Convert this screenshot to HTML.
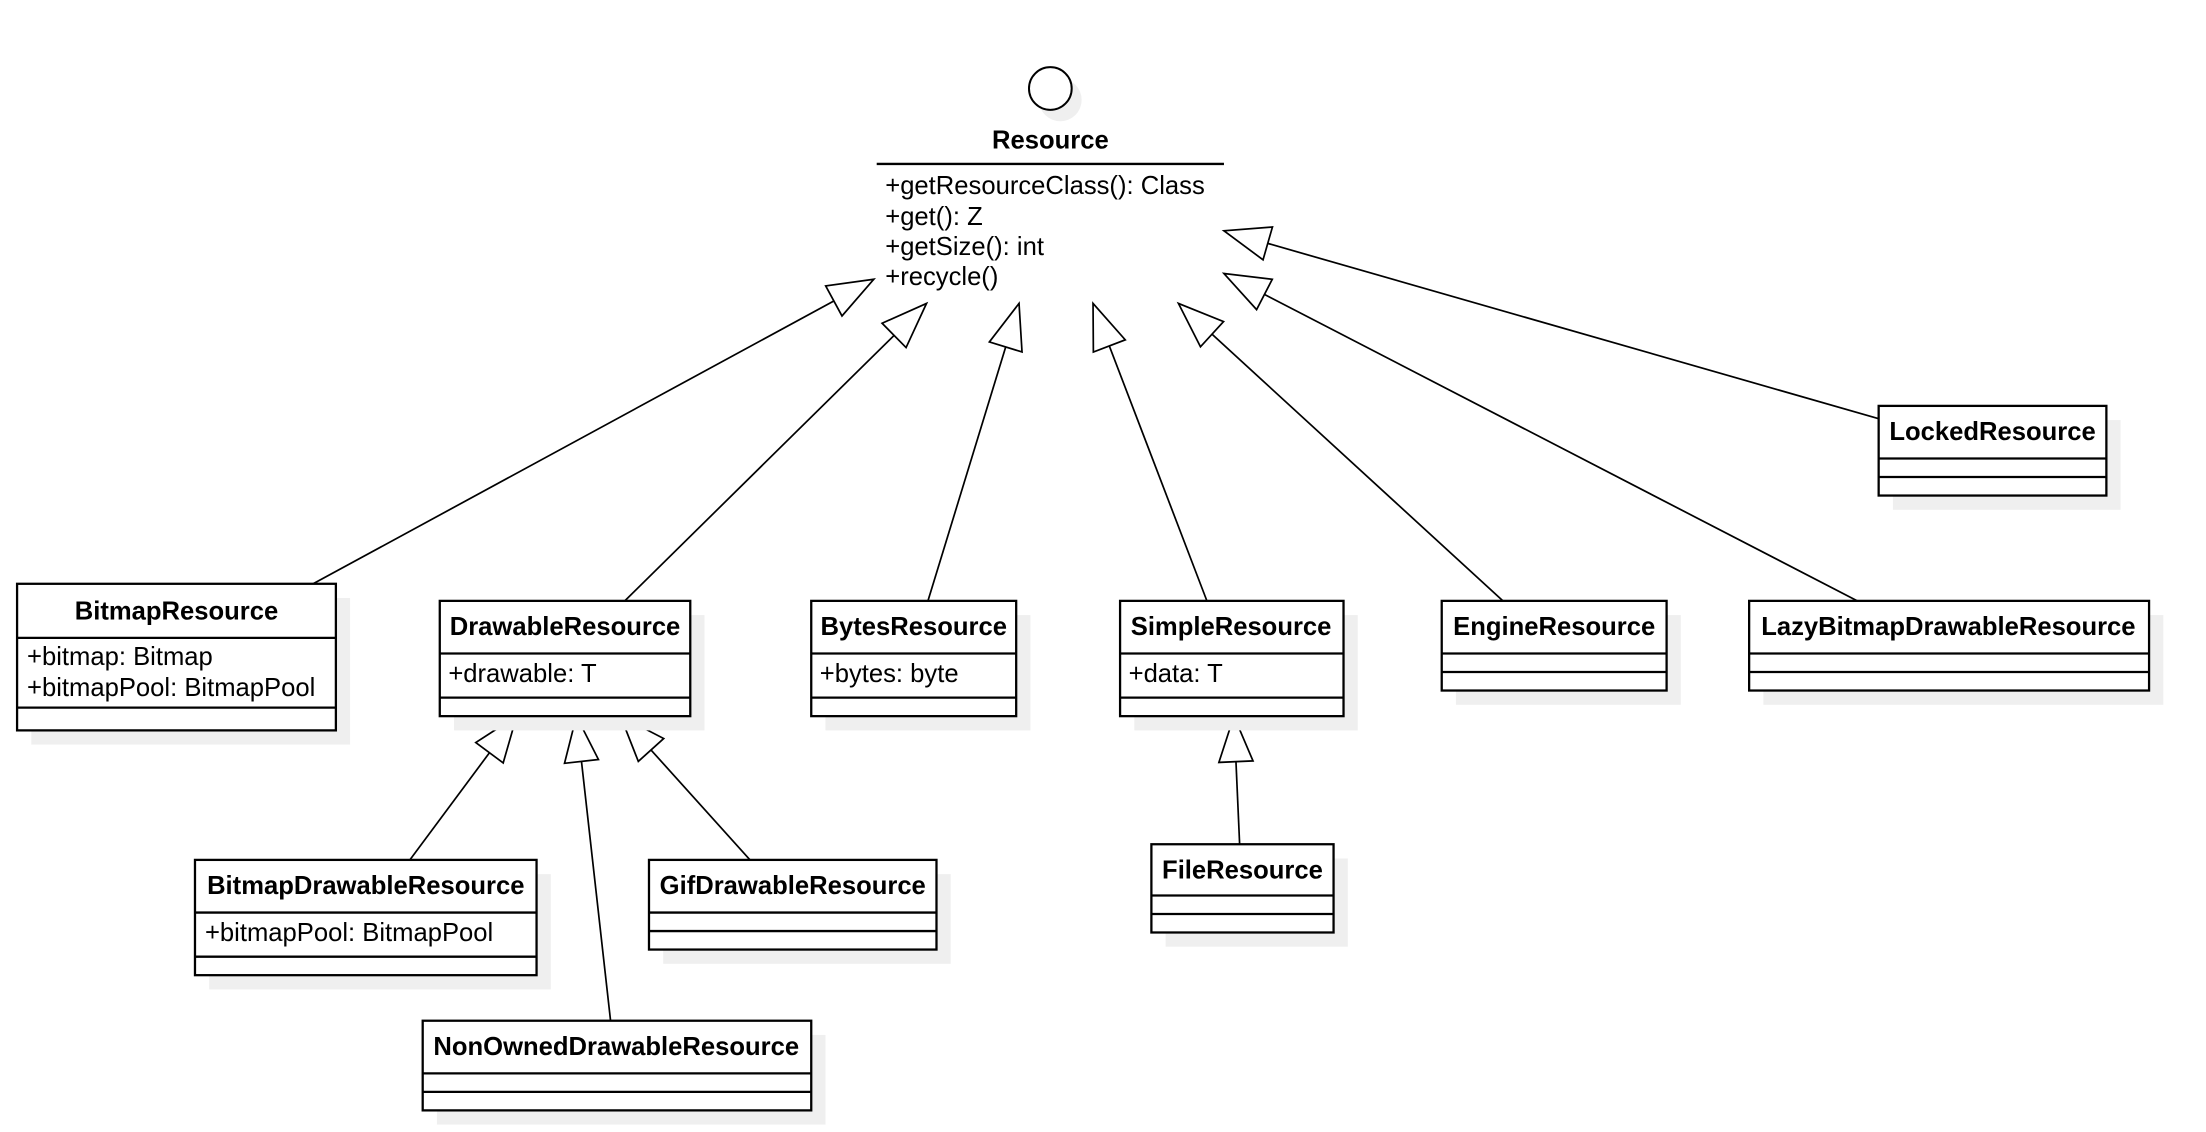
<!DOCTYPE html>
<html><head><meta charset="utf-8"><style>
html,body{margin:0;padding:0;background:#fff;}
svg{display:block;}
text{font-family:"Liberation Sans",Arial,sans-serif;font-size:18px;fill:#000;}
.b{font-weight:bold;}
.box{fill:#fff;stroke:#000;stroke-width:1.6;}
.sh{fill:#efefef;}
.ln{stroke:#000;stroke-width:1.2;fill:none;}
</style></head><body>
<svg width="2206" height="1132" viewBox="0 0 1550 795" xmlns="http://www.w3.org/2000/svg">
<defs>
<marker id="tri" markerUnits="userSpaceOnUse" viewBox="-34 -14 36 28" refX="0" refY="0" markerWidth="36" markerHeight="28" orient="auto">
<path d="M0,0 L-32,-12 L-32,12 Z" fill="#fff" stroke="#000" stroke-width="1.2"/>
</marker>
</defs>

<circle cx="745" cy="70" r="15" fill="#efefef"/>
<circle cx="738" cy="62" r="15" fill="#fff" stroke="#000" stroke-width="1.4"/>
<text x="738" y="104" text-anchor="middle" class="b">Resource</text>
<line x1="616" y1="115" x2="860" y2="115" stroke="#000" stroke-width="1.6"/>
<text x="622" y="136">+getResourceClass(): Class</text>
<text x="622" y="158">+get(): Z</text>
<text x="622" y="179">+getSize(): int</text>
<text x="622" y="200">+recycle()</text>

<g class="ln" marker-end="url(#tri)">
<line x1="220" y1="410" x2="614" y2="196"/>
<line x1="439" y1="422" x2="651" y2="213"/>
<line x1="652" y1="422" x2="716" y2="213"/>
<line x1="848" y1="422" x2="768" y2="213"/>
<line x1="1056" y1="422" x2="828" y2="213"/>
<line x1="1305" y1="422" x2="860" y2="192"/>
<line x1="1320" y1="294" x2="860" y2="162"/>
<line x1="288" y1="604" x2="363" y2="503"/>
<line x1="429" y1="717" x2="405" y2="503"/>
<line x1="527" y1="604" x2="436" y2="503"/>
<line x1="871" y1="593" x2="867" y2="503"/>
</g>

<rect class="sh" x="22" y="420" width="224" height="103"/>
<rect class="box" x="12" y="410" width="224" height="103"/>
<line class="box" x1="12" y1="448" x2="236" y2="448"/>
<line class="box" x1="12" y1="497" x2="236" y2="497"/>
<text x="124" y="435" text-anchor="middle" class="b">BitmapResource</text>
<text x="19" y="467">+bitmap: Bitmap</text>
<text x="19" y="489">+bitmapPool: BitmapPool</text>

<rect class="sh" x="319" y="432" width="176" height="81"/>
<rect class="box" x="309" y="422" width="176" height="81"/>
<line class="box" x1="309" y1="459" x2="485" y2="459"/>
<line class="box" x1="309" y1="490" x2="485" y2="490"/>
<text x="397" y="446" text-anchor="middle" class="b">DrawableResource</text>
<text x="315" y="479">+drawable: T</text>

<rect class="sh" x="580" y="432" width="144" height="81"/>
<rect class="box" x="570" y="422" width="144" height="81"/>
<line class="box" x1="570" y1="459" x2="714" y2="459"/>
<line class="box" x1="570" y1="490" x2="714" y2="490"/>
<text x="642" y="446" text-anchor="middle" class="b">BytesResource</text>
<text x="576" y="479">+bytes: byte</text>

<rect class="sh" x="797" y="432" width="157" height="81"/>
<rect class="box" x="787" y="422" width="157" height="81"/>
<line class="box" x1="787" y1="459" x2="944" y2="459"/>
<line class="box" x1="787" y1="490" x2="944" y2="490"/>
<text x="865" y="446" text-anchor="middle" class="b">SimpleResource</text>
<text x="793" y="479">+data: T</text>

<rect class="sh" x="1023" y="432" width="158" height="63"/>
<rect class="box" x="1013" y="422" width="158" height="63"/>
<line class="box" x1="1013" y1="459" x2="1171" y2="459"/>
<line class="box" x1="1013" y1="472" x2="1171" y2="472"/>
<text x="1092" y="446" text-anchor="middle" class="b">EngineResource</text>

<rect class="sh" x="1239" y="432" width="281" height="63"/>
<rect class="box" x="1229" y="422" width="281" height="63"/>
<line class="box" x1="1229" y1="459" x2="1510" y2="459"/>
<line class="box" x1="1229" y1="472" x2="1510" y2="472"/>
<text x="1369" y="446" text-anchor="middle" class="b">LazyBitmapDrawableResource</text>

<rect class="sh" x="1330" y="295" width="160" height="63"/>
<rect class="box" x="1320" y="285" width="160" height="63"/>
<line class="box" x1="1320" y1="322" x2="1480" y2="322"/>
<line class="box" x1="1320" y1="335" x2="1480" y2="335"/>
<text x="1400" y="309" text-anchor="middle" class="b">LockedResource</text>

<rect class="sh" x="147" y="614" width="240" height="81"/>
<rect class="box" x="137" y="604" width="240" height="81"/>
<line class="box" x1="137" y1="641" x2="377" y2="641"/>
<line class="box" x1="137" y1="672" x2="377" y2="672"/>
<text x="257" y="628" text-anchor="middle" class="b">BitmapDrawableResource</text>
<text x="144" y="661">+bitmapPool: BitmapPool</text>

<rect class="sh" x="466" y="614" width="202" height="63"/>
<rect class="box" x="456" y="604" width="202" height="63"/>
<line class="box" x1="456" y1="641" x2="658" y2="641"/>
<line class="box" x1="456" y1="654" x2="658" y2="654"/>
<text x="557" y="628" text-anchor="middle" class="b">GifDrawableResource</text>

<rect class="sh" x="307" y="727" width="273" height="63"/>
<rect class="box" x="297" y="717" width="273" height="63"/>
<line class="box" x1="297" y1="754" x2="570" y2="754"/>
<line class="box" x1="297" y1="767" x2="570" y2="767"/>
<text x="433" y="741" text-anchor="middle" class="b">NonOwnedDrawableResource</text>

<rect class="sh" x="819" y="603" width="128" height="62"/>
<rect class="box" x="809" y="593" width="128" height="62"/>
<line class="box" x1="809" y1="629" x2="937" y2="629"/>
<line class="box" x1="809" y1="642" x2="937" y2="642"/>
<text x="873" y="617" text-anchor="middle" class="b">FileResource</text>
</svg>
</body></html>
